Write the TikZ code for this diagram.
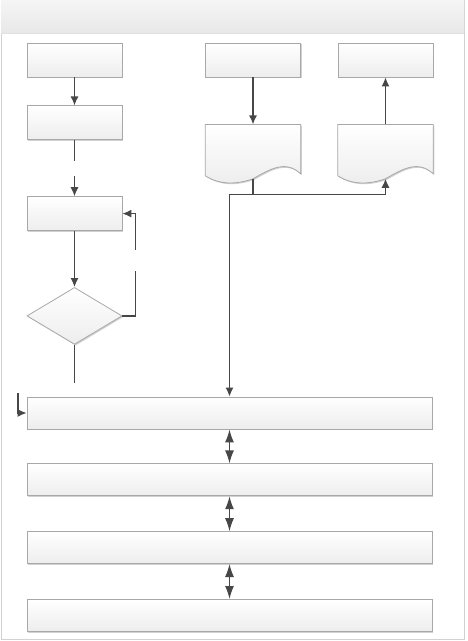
\documentclass[tikz,border=0pt]{standalone}
\usetikzlibrary{arrows.meta,positioning,shapes.geometric,shadows,calc}
\definecolor{flowgrey}{HTML}{474747}
\definecolor{boxedge}{HTML}{A8A8A8}
\definecolor{framegrey}{HTML}{D2D2D2}

% outline of a document symbol drawn over an empty node
\newcommand\docoutline[1]{%
  \draw[docbox] (#1.north west) -- (#1.north east) -- ($(#1.south east)+(0,-4)$)
    .. controls ($(#1.south)+(32.5,-18)$) and ($(#1.south)+(17.5,-9)$) .. ($(#1.south)+(0,1)$)
    .. controls ($(#1.south)+(-17.5,7)$) and ($(#1.south)+(-33.5,7)$) .. ($(#1.south west)+(0,-2)$)
    -- cycle;
  \coordinate (#1-wave) at ($(#1.south)+(0,1)$);}

\begin{document}
\begin{tikzpicture}[
  x=1pt, y=-1pt,
  boxfill/.style={draw=boxedge, line width=0.8pt, top color=white, bottom color=black!7,
    drop shadow={shadow xshift=1.2pt, shadow yshift=-1.2pt, opacity=0.18, fill=black}},
  stepbox/.style={boxfill, rectangle, minimum width=95pt, minimum height=34pt, inner sep=0pt},
  wide/.style={boxfill, rectangle, minimum width=405pt, minimum height=32pt, inner sep=0pt},
  decide/.style={boxfill, diamond, minimum width=95pt, minimum height=57pt, inner sep=0pt},
  docnode/.style={rectangle, minimum width=95pt, minimum height=53pt, inner sep=0pt},
  docbox/.style={boxfill},
  flowline/.style={line width=1.3pt, draw=flowgrey},
  flow/.style={flowline, -{Latex[length=9pt,width=8pt]}},
  both/.style={flowline, {Latex[length=13pt,width=9pt]}-{Latex[length=13pt,width=9pt]}},
]
  \useasboundingbox (0,0) rectangle (467,641);
  \draw[framegrey, line width=0.8pt] (1,0) rectangle (464,639);
  \fill[top color=black!4, bottom color=black!9] (1,0) rectangle (464,33);
  \draw[black!12, line width=0.6pt] (1,33) -- (464,33);

  % left column
  \node[stepbox] (A) at (74.5,60) {};
  \node[stepbox, below=28pt of A] (B) {};
  \node[stepbox, below=56pt of B] (C) {};
  \node[decide, below=56pt of C] (dec) {};

  % right columns
  \node[stepbox] (D) at (253,60) {};
  \node[stepbox] (F) at (385.5,60) {};
  \node[docnode, below=47pt of D] (E) {};
  \node[docnode, below=47pt of F] (G) {};
  \docoutline{E}
  \docoutline{G}

  % wide bars
  \node[wide] (bar1) at (229.5,413) {};
  \node[wide, below=34pt of bar1] (bar2) {};
  \node[wide, below=35pt of bar2] (bar3) {};
  \node[wide, below=35pt of bar3] (bar4) {};

  \draw[flow] (A) -- (B);
  \draw[flow] (B.south) -- ++(0,21) coordinate (Bout) ++(0,15) -- (C.north);
  \draw[flow] (C) -- (dec);
  \draw[flow] (dec.east) -- ++(13,0) -- ++(0,-45) coordinate (loopgap) ++(0,-21) |- (C.east);
  \draw[flowline] (dec.south) -- ++(0,38) coordinate (decout);
  \coordinate (inflow) at (18,393);
  \draw[flow] (inflow) |- (bar1.west);

  \draw[flow] (D) -- (E);
  \draw[flow] (G) -- (F);
  \draw[flowline] (E-wave) -- ++(0,16) coordinate (split);
  \draw[flow] (split) -| (G-wave);
  \draw[flow] (split) -| (bar1.north);

  \draw[both] (bar1) -- (bar2);
  \draw[both] (bar2) -- (bar3);
  \draw[both] (bar3) -- (bar4);
\end{tikzpicture}
\end{document}
